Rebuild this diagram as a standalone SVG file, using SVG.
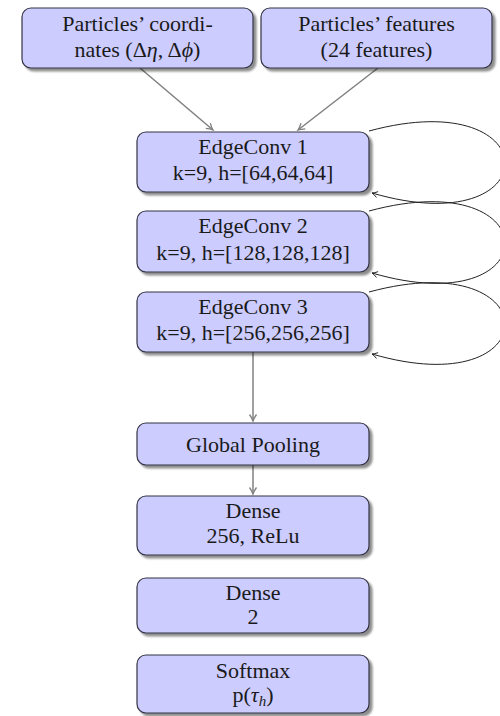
<svg xmlns="http://www.w3.org/2000/svg" width="500" height="716" viewBox="0 0 500 716">
  <defs>
    <filter id="shadow" x="-10%" y="-10%" width="130%" height="140%">
      <feGaussianBlur in="SourceAlpha" stdDeviation="1.2" result="b"/>
      <feOffset dx="3" dy="3" result="o"/>
      <feComponentTransfer in="o" result="s">
        <feFuncA type="linear" slope="0.45"/>
      </feComponentTransfer>
      <feMerge>
        <feMergeNode in="s"/>
        <feMergeNode in="SourceGraphic"/>
      </feMerge>
    </filter>
    <marker id="grayhead" markerWidth="10" markerHeight="10" refX="8" refY="5" orient="auto" markerUnits="userSpaceOnUse">
      <path d="M1.5,1.5 Q5,4 8,5 Q5,6 1.5,8.5" fill="none" stroke="#808080" stroke-width="1.3"/>
    </marker>
    <marker id="blackhead" markerWidth="10" markerHeight="10" refX="8" refY="5" orient="auto" markerUnits="userSpaceOnUse">
      <path d="M2.5,2 Q5.5,4.2 8,5 Q5.5,5.8 2.5,8" fill="none" stroke="#222" stroke-width="0.9"/>
    </marker>
  </defs>
  <style>
    .box { fill: #ccccff; stroke: #333344; stroke-width: 1.2; filter: url(#shadow); }
    .lbl { font-family: "Liberation Serif", "Times New Roman", serif; font-size: 22px; fill: #1a1a1a; text-anchor: middle; }
    .flow { fill: none; stroke: #808080; stroke-width: 1.5; marker-end: url(#grayhead); }
    .loop { fill: none; stroke: #222; stroke-width: 1; marker-end: url(#blackhead); }
  </style>
  <rect width="500" height="716" fill="#ffffff"/>

  <g id="connectors">
    <path class="flow" d="M140,68 L213,130"/>
    <path class="flow" d="M378,68 L298,130"/>
    <path class="loop" d="M369,131 C550,82 550,245 372,193"/>
    <path class="loop" d="M369,211 C550,162 550,325 372,273"/>
    <path class="loop" d="M369,292 C550,243 550,406 372,354"/>
    <path class="flow" d="M253,352 L253,421"/>
    <path class="flow" d="M253,465 L253,494"/>
  </g>

  <g id="coords">
    <rect class="box" x="22" y="8" width="231" height="60" rx="9"/>
    <text class="lbl" x="137.5" y="31">Particles’ coordi-</text>
    <text class="lbl" x="137.5" y="57">nates (Δ<tspan font-style="italic">η</tspan>, Δ<tspan font-style="italic">ϕ</tspan>)</text>
  </g>

  <g id="features">
    <rect class="box" x="261" y="8" width="231" height="60" rx="9"/>
    <text class="lbl" x="376.5" y="31">Particles’ features</text>
    <text class="lbl" x="376.5" y="57">(24 features)</text>
  </g>

  <g id="edgeconv1">
    <rect class="box" x="137" y="132" width="232" height="60" rx="9"/>
    <text class="lbl" x="253" y="154">EdgeConv 1</text>
    <text class="lbl" x="253" y="180">k=9, h=[64,64,64]</text>
  </g>

  <g id="edgeconv2">
    <rect class="box" x="137" y="211" width="232" height="61" rx="9"/>
    <text class="lbl" x="253" y="233">EdgeConv 2</text>
    <text class="lbl" x="253" y="260">k=9, h=[128,128,128]</text>
  </g>

  <g id="edgeconv3">
    <rect class="box" x="137" y="292" width="232" height="60" rx="9"/>
    <text class="lbl" x="253" y="314">EdgeConv 3</text>
    <text class="lbl" x="253" y="340">k=9, h=[256,256,256]</text>
  </g>

  <g id="pooling">
    <rect class="box" x="137" y="423" width="232" height="42" rx="9"/>
    <text class="lbl" x="253" y="452">Global Pooling</text>
  </g>

  <g id="dense256">
    <rect class="box" x="137" y="496" width="232" height="59" rx="9"/>
    <text class="lbl" x="253" y="518">Dense</text>
    <text class="lbl" x="253" y="543">256, ReLu</text>
  </g>

  <g id="dense2">
    <rect class="box" x="137" y="578" width="232" height="55" rx="9"/>
    <text class="lbl" x="253" y="600">Dense</text>
    <text class="lbl" x="253" y="624">2</text>
  </g>

  <g id="softmax">
    <rect class="box" x="137" y="655" width="232" height="58" rx="9"/>
    <text class="lbl" x="253" y="678">Softmax</text>
    <text class="lbl" x="253" y="702">p(<tspan font-style="italic">τ</tspan><tspan font-style="italic" font-size="15" dy="4">h</tspan><tspan dy="-4">)</tspan></text>
  </g>
</svg>
